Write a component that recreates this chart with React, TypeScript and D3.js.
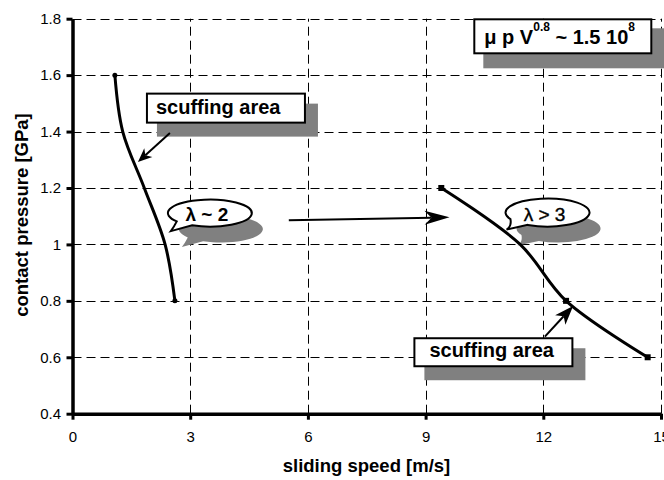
import { useEffect, useRef } from "react";
import * as d3 from "d3";

// axis ticks
const xTicks = [0, 3, 6, 9, 12, 15];
const yTicks = [0.4, 0.6, 0.8, 1, 1.2, 1.4, 1.6, 1.8];
const yTickLabels = ["0.4", "0.6", "0.8", "1", "1.2", "1.4", "1.6", "1.8"];

// lambda ~ 2 curve (sliding speed m/s, contact pressure GPa)
const lowSpeedV = [1.08, 1.28, 1.83, 2.36, 2.61];
const lowSpeedP = [1.6, 1.4, 1.2, 1.0, 0.8];
const lowSpeedMarked = [0, 4];

// lambda > 3 curve
const highSpeedV = [9.4, 11.41, 12.58, 14.66];
const highSpeedP = [1.2, 1.0, 0.8, 0.6];
const highSpeedMarked = [0, 2, 3];

const FONT = "'Liberation Sans', Arial, Helvetica, sans-serif";

export default function App() {
  const ref = useRef<SVGSVGElement>(null);

  useEffect(() => {
    const el = ref.current;
    if (!el) return;
    const svg = d3.select(el);
    svg.selectAll("*").remove();

    const x = d3.scaleLinear().domain([0, 15]).range([72.5, 661]);
    const y = d3.scaleLinear().domain([0.4, 1.8]).range([413.7, 18.7]);
    const snap = (v: number) => Math.round(v) + 0.5;

    // Grid
    const grid = svg.append("g").attr("stroke", "#000").attr("stroke-width", 1).attr("stroke-dasharray", "9,5");
    grid.selectAll(".hg").data(yTicks.filter((v) => v > 0.4)).join("line")
      .attr("x1", x(0)).attr("x2", x(15))
      .attr("y1", (d) => snap(y(d))).attr("y2", (d) => snap(y(d)));
    grid.selectAll(".vg").data(xTicks.filter((v) => v > 0)).join("line")
      .attr("y1", y(0.4)).attr("y2", y(1.8))
      .attr("x1", (d) => snap(x(d))).attr("x2", (d) => snap(x(d)));

    // Annotations: boxes with drop shadow
    const boxes = [
      { v: 1.872, p: 1.538, w: 160, h: 31, tx: 10, ty: 21, text: "scuffing area" },
      { v: 8.689, p: 0.671, w: 160, h: 30, tx: 16, ty: 20, text: "scuffing area" },
    ];
    boxes.forEach((b) => {
      const bx = x(b.v), by = y(b.p);
      svg.append("rect").attr("x", bx + 11).attr("y", by + 11).attr("width", b.w + 1).attr("height", b.h + 2).attr("fill", "#808080");
      svg.append("rect").attr("x", bx + 1).attr("y", by + 1).attr("width", b.w - 2).attr("height", b.h - 2)
        .attr("fill", "#fff").attr("stroke", "#000").attr("stroke-width", 2);
      svg.append("text").attr("x", bx + b.tx).attr("y", by + b.ty)
        .style("font-family", FONT).style("font-size", "20px").style("font-weight", "bold").text(b.text);
    });

    // formula box
    {
      const bx = x(10.216), by = y(1.8014), w = 179, h = 36;
      svg.append("rect").attr("x", bx + 10).attr("y", by + 10).attr("width", w + 2).attr("height", h + 4).attr("fill", "#808080");
      svg.append("rect").attr("x", bx + 1).attr("y", by + 1).attr("width", w - 2).attr("height", h - 2)
        .attr("fill", "#fff").attr("stroke", "#000").attr("stroke-width", 2);
      const t = svg.append("text").attr("x", bx + 11).attr("y", by + 25.5)
        .style("font-family", FONT).style("font-size", "20px").style("font-weight", "bold");
      t.append("tspan").text("\u03bc p V");
      t.append("tspan").attr("dy", -13).style("font-size", "12px").text("0.8");
      t.append("tspan").attr("dy", 13).text(" ~ 1.5 10");
      t.append("tspan").attr("dy", -13).style("font-size", "12px").text("8");
    }

    // Speech-bubble callouts
    const callouts = [
      { v: 3.501, p: 1.111, rx: 42, ry: 13.5, a1: 115, a2: 142, tip: [-39, 18], text: "\u03bb ~ 2", weight: "bold" },
      { v: 12.108, p: 1.113, rx: 42, ry: 14, a1: 118, a2: 152, tip: [-41, 17], text: "\u03bb > 3", weight: "normal" },
    ];
    callouts.forEach((c) => {
      const cx = x(c.v), cy = y(c.p);
      const pt = (a: number) => [cx + c.rx * Math.cos((a * Math.PI) / 180), cy + c.ry * Math.sin((a * Math.PI) / 180)];
      const [p1x, p1y] = pt(c.a1);
      const [p2x, p2y] = pt(c.a2);
      const d = `M${p2x},${p2y} Q${cx - c.rx * 0.85},${cy + c.ry * 1.0} ${cx + c.tip[0]},${cy + c.tip[1]} L${p1x},${p1y} A${c.rx},${c.ry} 0 1 0 ${p2x},${p2y} Z`;
      svg.append("path").attr("d", d).attr("fill", "#808080").attr("transform", "translate(11,16)");
      svg.append("path").attr("d", d).attr("fill", "#fff").attr("stroke", "#000").attr("stroke-width", 2);
      svg.append("text").attr("x", cx - 3).attr("y", cy + 8).attr("text-anchor", "middle")
        .style("font-family", FONT).style("font-size", "19px").style("font-weight", c.weight)
        .attr("stroke", c.weight === "normal" ? "#000" : "none").attr("stroke-width", 0.4)
        .text(c.text);
    });

    // Arrows
    const arrows = [
      { from: [2.483, 1.395], to: [1.668, 1.292], len: 14, hw: 6, notch: 4 },
      { from: [5.513, 1.086], to: [9.61, 1.096], len: 25, hw: 7, notch: 7 },
      { from: [12.04, 0.673], to: [12.76, 0.782], len: 19, hw: 7, notch: 5 },
    ];
    arrows.forEach((a) => {
      const x1 = x(a.from[0]), y1 = y(a.from[1]), x2 = x(a.to[0]), y2 = y(a.to[1]);
      const L = Math.hypot(x2 - x1, y2 - y1);
      const ux = (x2 - x1) / L, uy = (y2 - y1) / L;
      const nx = -uy, ny = ux;
      const bx = x2 - ux * a.len, by = y2 - uy * a.len;
      const mx = x2 - ux * (a.len - a.notch), my = y2 - uy * (a.len - a.notch);
      svg.append("line").attr("x1", x1).attr("y1", y1).attr("x2", mx).attr("y2", my)
        .attr("stroke", "#000").attr("stroke-width", 2);
      svg.append("polygon")
        .attr("points", [[x2, y2], [bx + nx * a.hw, by + ny * a.hw], [mx, my], [bx - nx * a.hw, by - ny * a.hw]].map((p) => p.join(",")).join(" "))
        .attr("fill", "#000");
    });

    // Curves (smoothed lines through the data points)
    const series = [
      { v: lowSpeedV, p: lowSpeedP, marked: lowSpeedMarked, shape: "dot" },
      { v: highSpeedV, p: highSpeedP, marked: highSpeedMarked, shape: "square" },
    ];
    series.forEach((s) => {
      const pts = s.v.map((v, i) => [x(v), y(s.p[i])] as [number, number]);
      svg.append("path").attr("d", d3.line().curve(d3.curveCatmullRom.alpha(0.5))(pts))
        .attr("fill", "none").attr("stroke", "#000").attr("stroke-width", 3);
      s.marked.forEach((i) => {
        const [px, py] = pts[i];
        if (s.shape === "dot") svg.append("circle").attr("cx", px).attr("cy", py).attr("r", 2.5).attr("fill", "#000");
        else svg.append("rect").attr("x", px - 3).attr("y", py - 3).attr("width", 6).attr("height", 6).attr("fill", "#000");
      });
    });

    // Axes
    svg.append("g").attr("transform", `translate(${x(0)},0)`)
      .call(d3.axisLeft(y).tickValues(yTicks).tickSize(6).tickSizeOuter(0).tickPadding(5.5)
        .tickFormat((_d, i) => yTickLabels[i]))
      .call((g) => g.select(".domain").attr("stroke-width", 3.5))
      .call((g) => g.selectAll(".tick line").attr("stroke-width", 3))
      .call((g) => g.selectAll(".tick text").style("font-family", FONT).style("font-size", "15px").attr("fill", "#000"));

    svg.append("g").attr("transform", `translate(0,${y(0.4)})`)
      .call(d3.axisBottom(x).tickValues(xTicks).tickSize(6).tickSizeOuter(0).tickPadding(11.5))
      .call((g) => g.select(".domain").attr("stroke-width", 3.5))
      .call((g) => g.selectAll(".tick line").attr("stroke-width", 3))
      .call((g) => g.selectAll(".tick text").style("font-family", FONT).style("font-size", "15px").attr("fill", "#000"));

    // Axis titles
    svg.append("text").attr("x", 366.5).attr("y", 472).attr("text-anchor", "middle")
      .style("font-family", FONT).style("font-size", "18.5px").style("font-weight", "bold")
      .text("sliding speed [m/s]");
    svg.append("text").attr("transform", "translate(28,215) rotate(-90)").attr("text-anchor", "middle")
      .style("font-family", FONT).style("font-size", "18.5px").style("font-weight", "bold")
      .text("contact pressure [GPa]");
  }, []);

  return (
    <svg ref={ref} width={664} height={480}
      style={{ position: "absolute", left: 0, top: 0, background: "#fff" }} />
  );
}
